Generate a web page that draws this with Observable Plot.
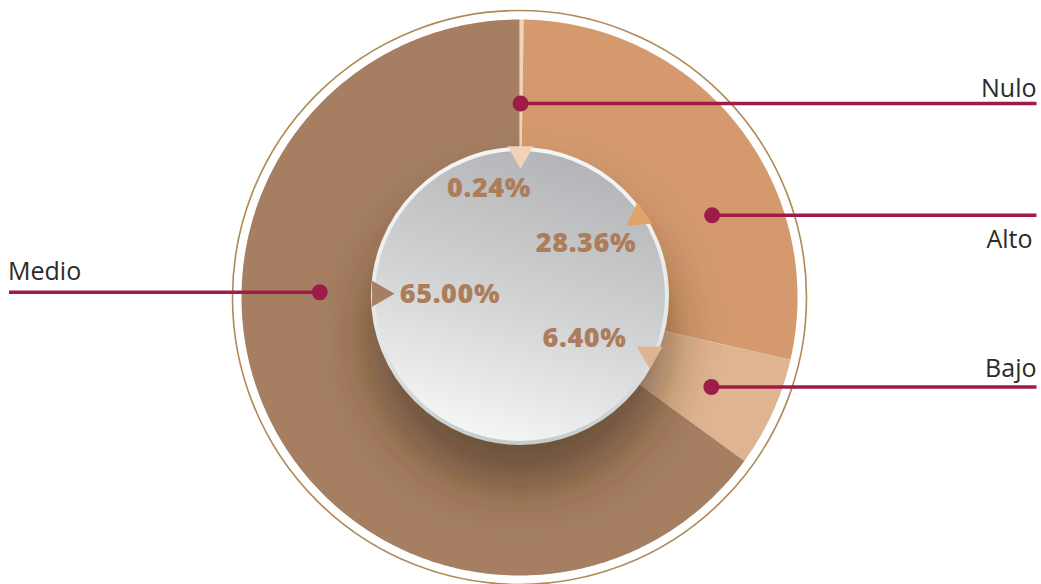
<!DOCTYPE html>
<html><head><meta charset="utf-8">
<script src="https://cdn.jsdelivr.net/npm/d3@7"></script>
<script src="https://cdn.jsdelivr.net/npm/@observablehq/plot@0.6"></script>
<style>body{margin:0;background:#fff}</style>
</head><body><div id="chart"></div>
<script>
// ---- data ----
const categories = ["Nulo", "Alto", "Bajo", "Medio"];
const values = [0.24, 28.36, 6.40, 65.00];
const valueLabels = ["0.24%", "28.36%", "6.40%", "65.00%"];
const sliceColors = ["#f1d4b8", "#d49a6e", "#dfb490", "#a67f62"];
const pointerColors = ["#f1d4b8", "#e0a468", "#dfb490", "#a67f62"];

// ---- layout (degrees clockwise from 12 o'clock, px radii) ----
const R_OUT = 278, R_IN = 120, R_RING = 287, R_CORE = 147;
const pointerAngle = [0.4, 56, 113.4, 271.5];
const pointerRadius = [143.7, 143.8, 142, 140];
const pointerRotate = [180, 236, 180, 90];
const valueAngle = [344.4, 50.9, 121.9, 272.5];
const valueRadius = [113.2, 85.7, 76.6, 69.6];
const calloutAngle = [0.3, 66.9, 115.0, 271.5];
const calloutRadius = [194, 209.4, 211.7, 199.8];
const calloutEnd = [517, 517, 517, -510.5];
const nameAnchor = ["end", "end", "end", "start"];
const nameDy = [6.5, -33, 10, 12.4];
const nameDx = [0, -4, 0, -1];

const polar = (a, r) => [r * Math.sin(a * Math.PI / 180), r * Math.cos(a * Math.PI / 180)];
const total = d3.sum(values);
let acc = 0;
const slicePts = [];
categories.forEach((c, i) => {
  const a0 = acc / total * 360; acc += values[i]; const a1 = acc / total * 360;
  const n = Math.max(2, Math.ceil((a1 - a0) / 0.5));
  for (let k = 0; k <= n; k++) { const [x, y] = polar(a0 + (a1 - a0) * k / n, R_OUT); slicePts.push({c, x, y, color: sliceColors[i]}); }
  for (let k = n; k >= 0; k--) { const [x, y] = polar(a0 + (a1 - a0) * k / n, R_IN); slicePts.push({c, x, y, color: sliceColors[i]}); }
});

const items = categories.map((c, i) => {
  const [px, py] = polar(pointerAngle[i], pointerRadius[i]);
  const [vx, vy] = polar(valueAngle[i], valueRadius[i]);
  const [cx, cy] = polar(calloutAngle[i], calloutRadius[i]);
  return {c, label: valueLabels[i], px, py, rot: pointerRotate[i], pcolor: pointerColors[i],
          vx, vy, cx, cy, ex: calloutEnd[i], nx: calloutEnd[i] + nameDx[i], ny: cy + nameDy[i], anchor: nameAnchor[i]};
});

const centre = [{x: 0, y: 0}];
const LINE = "#9d1d48";
const SHADOW = "#3a2414";
const VALUE = "#ad7d5b";

const svg = Plot.plot({
  width: 1041, height: 584, margin: 0,
  x: {domain: [-519, 522], axis: null},
  y: {domain: [-287, 297], axis: null},
  color: {type: "identity"},
  style: {background: "white"},
  marks: [
    Plot.dot(centre, {x: "x", y: "y", r: R_RING, fill: "none", stroke: "#b08a57", strokeWidth: 1.6}),
    Plot.line(slicePts, {x: "x", y: "y", z: "c", fill: "color", stroke: "none", curve: "linear"}),
    Plot.dot([{x: 0, y: -38}], {x: "x", y: "y", r: 150, fill: SHADOW, fillOpacity: 0.55, stroke: "none"}),
    Plot.dot([{x: 0.5, y: 1.5}], {x: "x", y: "y", r: R_CORE, fill: "url(#coreFill)", stroke: "url(#coreStroke)", strokeWidth: 4}),
    Plot.dot(items, {x: "px", y: "py", symbol: d3.symbolTriangle, r: 9.66, rotate: "rot", fill: "pcolor", stroke: "none"}),
    Plot.text(items, {x: "vx", y: "vy", text: "label", fill: VALUE, fontSize: 27, fontWeight: 800,
                      fontFamily: "Open Sans", lineAnchor: "middle"}),
    Plot.link(items, {x1: "cx", y1: "cy", x2: "ex", y2: "cy", stroke: LINE, strokeWidth: 3.5}),
    Plot.dot(items, {x: "cx", y: "cy", r: 8, fill: LINE, stroke: "none"}),
    Plot.text(items.filter(d => d.anchor === "end"), {x: "nx", y: "ny", text: "c", textAnchor: "end", lineAnchor: "bottom",
                      fontSize: 25, fontFamily: "Open Sans", fill: "#2b2b2b"}),
    Plot.text(items.filter(d => d.anchor === "start"), {x: "nx", y: "ny", text: "c", textAnchor: "start", lineAnchor: "bottom",
                      fontSize: 25, fontFamily: "Open Sans", fill: "#2b2b2b"})
  ]
});

const s = d3.select(svg);
const defs = s.insert("defs", ":first-child");
const cf = defs.append("linearGradient").attr("id", "coreFill").attr("x1", 0.65).attr("y1", 0).attr("x2", 0.35).attr("y2", 1);
cf.append("stop").attr("offset", 0).attr("stop-color", "#b1b3b6");
cf.append("stop").attr("offset", 0.5).attr("stop-color", "#cfd1d2");
cf.append("stop").attr("offset", 1).attr("stop-color", "#f6f7f7");
const cs = defs.append("linearGradient").attr("id", "coreStroke").attr("x1", 0).attr("y1", 0).attr("x2", 0).attr("y2", 1);
cs.append("stop").attr("offset", 0).attr("stop-color", "#f4f5f5");
cs.append("stop").attr("offset", 0.6).attr("stop-color", "#e6e9e9");
cs.append("stop").attr("offset", 1).attr("stop-color", "#c6cccc");
const blur = defs.append("filter").attr("id", "softShadow").attr("filterUnits", "userSpaceOnUse")
  .attr("x", 200).attr("y", 40).attr("width", 640).attr("height", 560);
blur.append("feGaussianBlur").attr("stdDeviation", 26);

const byFill = (col) => s.selectAll("g,circle,path,text").filter(function () {
  const f = (this.getAttribute("fill") || "").toLowerCase();
  return f === col;
});
byFill(SHADOW).attr("filter", "url(#softShadow)");
byFill(VALUE).style("letter-spacing", "0.6px");

document.getElementById("chart").appendChild(svg);
</script>
</body></html>
